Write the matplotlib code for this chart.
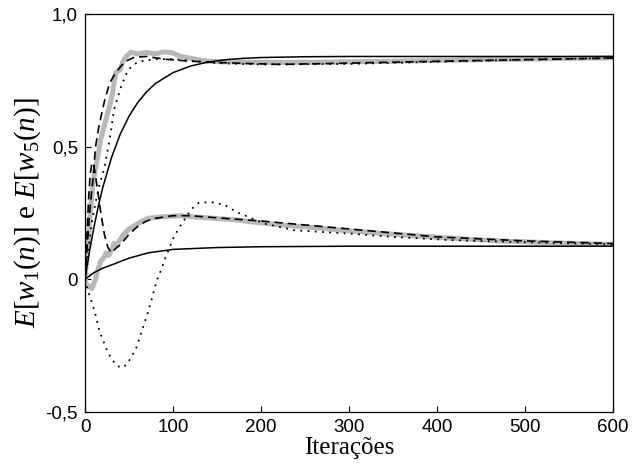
import matplotlib
matplotlib.use("Agg")
import matplotlib.pyplot as plt

plt.rcParams['mathtext.fontset'] = 'custom'
plt.rcParams['mathtext.rm'] = 'Liberation Serif'
plt.rcParams['mathtext.it'] = 'Liberation Serif:italic'

# curva cinza (simulacao) - grupo superior
cinza_sup_x = [0, 3, 6, 9, 12, 15, 18, 22, 26, 30, 35, 40, 43, 47, 52, 60, 70, 80, 90, 98,
               109, 125, 140, 160, 190, 223, 260, 300, 350, 400, 450, 500, 550, 600]
cinza_sup_y = [0.0, 0.12, 0.25, 0.36, 0.42, 0.47, 0.53, 0.58, 0.63, 0.68, 0.78, 0.79, 0.82, 0.84, 0.856, 0.85,
               0.855, 0.85, 0.857, 0.855, 0.84, 0.83, 0.822, 0.82, 0.818, 0.818, 0.818, 0.82, 0.822, 0.825, 0.828,
               0.83, 0.833, 0.835]
# grupo inferior
cinza_inf_x = [0, 2, 4, 6, 8, 10, 12, 14, 16, 18, 21, 24, 27, 30, 33, 36, 40, 44, 50, 60, 71, 85, 100, 109,
               125, 147, 170, 189, 223, 260, 300, 350, 417, 470, 530, 600]
cinza_inf_y = [0.0, -0.02, -0.03, -0.025, -0.035, -0.015, 0.0, 0.03, 0.05, 0.07, 0.08, 0.1, 0.09, 0.11, 0.136,
               0.13, 0.15, 0.17, 0.19, 0.21, 0.23, 0.235, 0.238, 0.24, 0.235, 0.23, 0.225, 0.217, 0.205, 0.195,
               0.183, 0.17, 0.155, 0.145, 0.138, 0.132]

# curvas teoricas (tracejada)
trac_sup_x = [0, 3, 6, 9, 12, 16, 22, 28, 35, 45, 56, 70, 90, 120, 147, 180, 223, 300, 400, 500, 600]
trac_sup_y = [0.0, 0.15, 0.28, 0.375, 0.5, 0.58, 0.67, 0.74, 0.78, 0.82, 0.837, 0.84, 0.83, 0.822, 0.818,
              0.814, 0.81, 0.815, 0.822, 0.828, 0.834]
trac_inf_x = [0, 2, 4, 6, 8, 10, 12, 15, 18, 22, 26, 30, 33, 36, 40, 50, 60, 70, 80, 100, 120, 150, 200,
              250, 300, 400, 500, 600]
trac_inf_y = [0.0, 0.15, 0.3, 0.4, 0.44, 0.43, 0.39, 0.32, 0.25, 0.17, 0.12, 0.1, 0.11, 0.12, 0.13, 0.17,
              0.2, 0.22, 0.23, 0.24, 0.24, 0.232, 0.22, 0.205, 0.19, 0.16, 0.145, 0.135]

# curvas teoricas (pontilhada)
pont_sup_x = [0, 4, 8, 12, 16, 22, 28, 33, 41, 49, 60, 80, 100, 150, 200, 300, 400, 500, 600]
pont_sup_y = [0.0, 0.12, 0.22, 0.29, 0.35, 0.42, 0.527, 0.64, 0.727, 0.79, 0.82, 0.83, 0.83, 0.815, 0.81,
              0.812, 0.82, 0.828, 0.834]
pont_inf_x = [0, 3, 11, 16, 24, 30, 37, 42, 48, 52, 58, 64, 70, 75, 81, 87, 92, 101, 109, 121, 129, 136,
              146, 159, 172, 186, 204, 238, 303, 350, 417, 500, 600]
pont_inf_y = [0.0, -0.04, -0.12, -0.19, -0.26, -0.30, -0.327, -0.333, -0.32, -0.295, -0.26, -0.20, -0.14,
              -0.085, -0.01, 0.04, 0.087, 0.16, 0.205, 0.265, 0.288, 0.29, 0.29, 0.28, 0.254, 0.235, 0.21,
              0.185, 0.172, 0.16, 0.148, 0.14, 0.132]

# curvas teoricas (continua)
cont_sup_x = [0, 5, 10, 15, 20, 30, 40, 50, 60, 70, 80, 100, 120, 140, 160, 180, 200, 250, 300, 400, 600]
cont_sup_y = [0.0, 0.103, 0.194, 0.274, 0.344, 0.458, 0.547, 0.615, 0.667, 0.707, 0.738, 0.779, 0.804,
              0.819, 0.828, 0.833, 0.836, 0.839, 0.84, 0.84, 0.84]
cont_inf_x = [0, 5, 10, 20, 33, 50, 72, 100, 150, 200, 300, 600]
cont_inf_y = [0.0, 0.013, 0.025, 0.042, 0.058, 0.08, 0.1, 0.113, 0.12, 0.123, 0.125, 0.125]

fig = plt.figure(figsize=(6.32, 4.72), dpi=100)
ax = fig.add_axes([0.1345, 0.127, 0.8355, 0.8433])

cinza = '#b8b8b8'
ax.plot(cinza_sup_x, cinza_sup_y, color=cinza, lw=3.6, solid_joinstyle='round')
ax.plot(cinza_inf_x, cinza_inf_y, color=cinza, lw=3.6, solid_joinstyle='round')
ax.plot(trac_sup_x, trac_sup_y, color='black', lw=1.2, ls=(0, (5, 3)))
ax.plot(trac_inf_x, trac_inf_y, color='black', lw=1.2, ls=(0, (5, 3)))
ax.plot(pont_sup_x, pont_sup_y, color='black', lw=1.3, ls=(0, (1, 3)))
ax.plot(pont_inf_x, pont_inf_y, color='black', lw=1.3, ls=(0, (1, 3)))
ax.plot(cont_sup_x, cont_sup_y, color='black', lw=1.1)
ax.plot(cont_inf_x, cont_inf_y, color='black', lw=1.1)

ax.set_xlim(0, 600)
ax.set_ylim(-0.5, 1.0)
ax.set_xticks([0, 100, 200, 300, 400, 500, 600])
ax.set_yticks([-0.5, 0, 0.5, 1.0])
ax.set_yticklabels(['-0,5', '0', '0,5', '1,0'])
ax.tick_params(direction='in', length=4, labelsize=13.5, pad=5)
for lab in ax.get_xticklabels() + ax.get_yticklabels():
    lab.set_fontfamily('Liberation Sans')
for s in ax.spines.values():
    s.set_linewidth(0.9)

ax.set_xlabel('Iterações', fontfamily='Liberation Serif', fontsize=18, labelpad=1)
ax.set_ylabel(r'$E[w_1(n)]$ e $E[w_5(n)]$', fontfamily='Liberation Serif', fontsize=21, labelpad=2)

fig.savefig('out.png', dpi=100)
